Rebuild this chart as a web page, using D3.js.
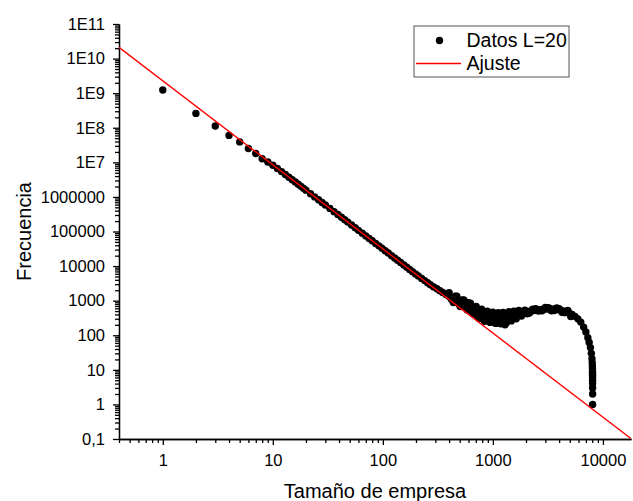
<!DOCTYPE html>
<meta charset="utf-8">
<style>
body {
    margin: 0;
    background: #fff;
}
text {
    font-family: 'Liberation Sans', Arial, sans-serif;
    fill: #000;
}
.axis path, .axis line {
    stroke: #000;
    stroke-width: 1.3px;
}
.axis text {
    font-size: 16.5px;
}
.axis-title {
    font-size: 20px;
}
.legend-text {
    font-size: 19.5px;
}
.dot {
    fill: #000;
}
.fit {
    fill: none;
    stroke: #ff0000;
    stroke-width: 1.4px;
}
</style>
<svg width="633" height="501"></svg>

<script src="https://d3js.org/d3.v7.min.js"></script>
<script>
// Tamaño de empresa vs frecuencia
let tamano = [1, 2, 3, 4, 5, 6, 7, 8, 9, 10, 11, 12, 13, 14, 15, 16, 17, 18, 19, 20,
    22, 24, 26, 28, 30, 33, 36, 39, 42, 45, 48, 52, 56, 60, 65, 70, 75, 80, 86, 92, 98,
    105, 112, 120, 128, 136, 145, 155, 165, 175, 186, 198, 210, 225, 240, 255, 270, 290,
    310, 330, 350, 375, 400, 425, 450, 480, 510, 540, 575, 610, 650, 690, 730, 780, 830,
    880, 940, 1000, 1060, 1130, 1200, 1280, 1360, 1450, 1540, 1640, 1740, 1850, 1970,
    2100, 2230, 2370, 2520, 2680, 2850, 3030, 3220, 3420, 3640, 3870, 4110, 4370, 4640,
    4930, 5240, 5570, 5920, 6290, 6680, 7000, 7300, 7500, 7700, 7850, 7950, 8000, 8020,
    8030, 8040, 8045, 8050, 8052, 8055, 8058, 8060, 8062, 8065];
let frecuencia = [1.23e9, 2.6e8, 1.12e8, 6.0e7, 3.9e7, 2.5e7, 1.8e7, 1.27e7, 1.02e7, 8.2e6,
    6.6e6, 5.4e6, 4.45e6, 3.7e6, 3.15e6, 2.7e6, 2.32e6, 2.02e6, 1.77e6, 1.57e6,
    1.24e6, 1.0e6, 8.3e5, 6.9e5, 5.85e5, 4.65e5, 3.75e5, 3.1e5, 2.58e5, 2.18e5, 1.87e5,
    1.54e5, 1.28e5, 1.08e5, 8.9e4, 7.45e4, 6.3e4, 5.4e4, 4.5e4, 3.85e4, 3.3e4,
    2.78e4, 2.38e4, 2.0e4, 1.72e4, 1.48e4, 1.27e4, 1.08e4, 9300, 8000, 6900, 5950, 5200,
    4400, 3800, 3300, 2900, 2500, 2200, 1950, 1720, 1500, 1320, 1200, 1080, 960, 870, 790,
    720, 650, 570, 500, 450, 405, 375, 350, 335, 320, 315, 310, 312, 318, 330, 345, 365,
    385, 410, 435, 460, 485, 505, 522, 538, 552, 562, 570, 574, 572, 565, 552, 532, 505,
    475, 440, 400, 352, 298, 240, 172, 125, 85, 62, 44, 30, 21, 16, 13,
    11, 9, 8, 7, 6, 5, 4, 3, 2, 1];

// dispersión alrededor de la banda entre 400 y 5500
let ruidoTamano = [400, 420, 437, 455, 470, 490, 505, 525, 545, 565, 585, 600, 625, 645,
    665, 690, 705, 725, 745, 770, 790, 815, 840, 865, 890, 915, 945, 970, 1000, 1030, 1060,
    1090, 1120, 1150, 1180, 1210, 1240, 1270, 1290, 1330, 1400, 1470, 1550, 1630, 1720,
    1820, 1950, 2050, 2150, 2300, 2450, 2600, 2800, 3000, 3200, 3400, 3600, 3800, 4000,
    4250, 4500, 4800, 5100];
let ruidoFrec = [1700, 1100, 880, 1350, 1350, 800, 680, 1050, 1050, 620, 540, 880, 840, 470,
    420, 640, 680, 360, 310, 520, 570, 290, 255, 480, 500, 260, 235, 440, 465, 250, 220,
    420, 450, 240, 215, 430, 455, 250, 200, 230, 480, 260, 500, 300, 520,
    360, 530, 420, 440, 570, 590, 500, 510, 640, 630, 510, 520, 620, 590, 460, 450, 520, 350];

// ajuste potencial: F = A * s^k
let ajusteA = 2.28e9;
let ajusteK = -2.431;

let xTicks = [1, 10, 100, 1000, 10000];
let xTickLabels = ['1', '10', '100', '1000', '10000'];
let yTicks = [0.1, 1, 10, 100, 1000, 1e4, 1e5, 1e6, 1e7, 1e8, 1e9, 1e10, 1e11];
let yTickLabels = ['0,1', '1', '10', '100', '1000', '10000', '100000', '1000000',
    '1E7', '1E8', '1E9', '1E10', '1E11'];

let svg = d3.select('svg');

let plot = {left: 119, right: 631, top: 24, bottom: 439};

let x = d3.scaleLog()
    .domain([0.4, 18000])
    .range([plot.left, plot.right]);

let y = d3.scaleLog()
    .domain([0.1, 1e11])
    .range([plot.bottom, plot.top]);

function minorTicks(scale) {
    let [a, b] = scale.domain();
    let out = [];
    for (let e = Math.floor(Math.log10(a)); e <= Math.ceil(Math.log10(b)); e++) {
        for (let m = 2; m <= 9; m++) {
            let v = m * Math.pow(10, e);
            if (v >= a * 0.999 && v <= b * 1.001) out.push(v);
        }
    }
    return out;
}

// minor ticks
svg.append('g').attr('class', 'axis')
    .attr('transform', `translate(0,${plot.bottom})`)
    .call(d3.axisBottom(x).tickValues(minorTicks(x)).tickSize(4).tickSizeOuter(0).tickFormat(''));
svg.append('g').attr('class', 'axis')
    .attr('transform', `translate(${plot.left},0)`)
    .call(d3.axisLeft(y).tickValues(minorTicks(y)).tickSize(4).tickSizeOuter(0).tickFormat(''));

// major ticks
svg.append('g').attr('class', 'axis')
    .attr('transform', `translate(0,${plot.bottom})`)
    .call(d3.axisBottom(x).tickValues(xTicks).tickSize(6).tickSizeOuter(0).tickPadding(9)
        .tickFormat((d, i) => xTickLabels[i]))
    .attr('font-family', null).attr('font-size', null);
svg.append('g').attr('class', 'axis')
    .attr('transform', `translate(${plot.left},0)`)
    .call(d3.axisLeft(y).tickValues(yTicks).tickSize(6).tickSizeOuter(0).tickPadding(8)
        .tickFormat((d, i) => yTickLabels[i]))
    .attr('font-family', null).attr('font-size', null);

svg.append('text').attr('class', 'axis-title')
    .attr('x', (plot.left + plot.right) / 2)
    .attr('y', 498)
    .attr('text-anchor', 'middle')
    .text('Tamaño de empresa');

svg.append('text').attr('class', 'axis-title')
    .attr('transform', `translate(31,${(plot.top + plot.bottom) / 2}) rotate(-90)`)
    .attr('text-anchor', 'middle')
    .text('Frecuencia');

let puntos = tamano.map((s, i) => [s, frecuencia[i]])
    .concat(ruidoTamano.map((s, i) => [s, ruidoFrec[i]]));

svg.append('defs').append('clipPath').attr('id', 'clip')
    .append('rect')
    .attr('x', plot.left).attr('y', plot.top)
    .attr('width', plot.right - plot.left).attr('height', plot.bottom - plot.top);

svg.append('g').attr('class', 'dots')
    .selectAll('circle')
    .data(puntos)
    .enter().append('circle')
        .attr('class', 'dot')
        .attr('cx', d => x(d[0]))
        .attr('cy', d => y(d[1]))
        .attr('r', 3.7);

// fit line on top of the points
let xs = x.domain();
svg.append('path')
    .datum(xs.map(s => [s, ajusteA * Math.pow(s, ajusteK)]))
    .attr('class', 'fit')
    .attr('clip-path', 'url(#clip)')
    .attr('d', d3.line().x(d => x(d[0])).y(d => y(d[1])));

// legend
let legend = svg.append('g').attr('class', 'legend');
legend.append('rect')
    .attr('x', 414).attr('y', 26)
    .attr('width', 155).attr('height', 51)
    .attr('fill', '#fff').attr('stroke', '#555').attr('stroke-width', 1);
legend.append('circle')
    .attr('class', 'dot')
    .attr('cx', 439.5).attr('cy', 40.5).attr('r', 3.7);
legend.append('text').attr('class', 'legend-text')
    .attr('x', 466.5).attr('y', 47).text('Datos L=20');
legend.append('line')
    .attr('class', 'fit')
    .attr('x1', 416).attr('x2', 461).attr('y1', 63.5).attr('y2', 63.5);
legend.append('text').attr('class', 'legend-text')
    .attr('x', 466.5).attr('y', 70).text('Ajuste');
</script>
